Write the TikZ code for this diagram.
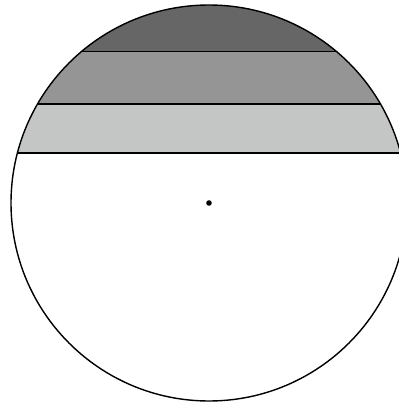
\documentclass[tikz,border=0pt]{standalone}
\usepackage{tikz}
\definecolor{bandtop}{HTML}{666666}
\definecolor{bandmid}{HTML}{959595}
\definecolor{bandlow}{HTML}{C4C6C5}

\begin{document}
\begin{tikzpicture}[
  x=0.2mm, y=0.2mm,
  rim/.style={draw, line width=0.8pt},
  chord/.style={draw, line width=0.8pt}
]
  \useasboundingbox (0,0) rectangle (399,407);
  \clip (0,0) rectangle (399,407);
  \coordinate (centre) at (209,204);

  % shaded bands cut off by the circle
  \begin{scope}
    \clip (centre) circle (198);
    \fill[bandlow] (0,254) rectangle (420,303);
    \fill[bandmid] (0,303) rectangle (420,355.5);
    \fill[bandtop] (0,355.5) rectangle (420,410);
    \draw[chord] (0,254) -- (420,254);
    \draw[chord] (0,303) -- (420,303);
    \draw[chord] (0,355.5) -- (420,355.5);
  \end{scope}

  \draw[rim] (centre) circle (198);
  \fill (centre) circle (2.8);
\end{tikzpicture}
\end{document}
